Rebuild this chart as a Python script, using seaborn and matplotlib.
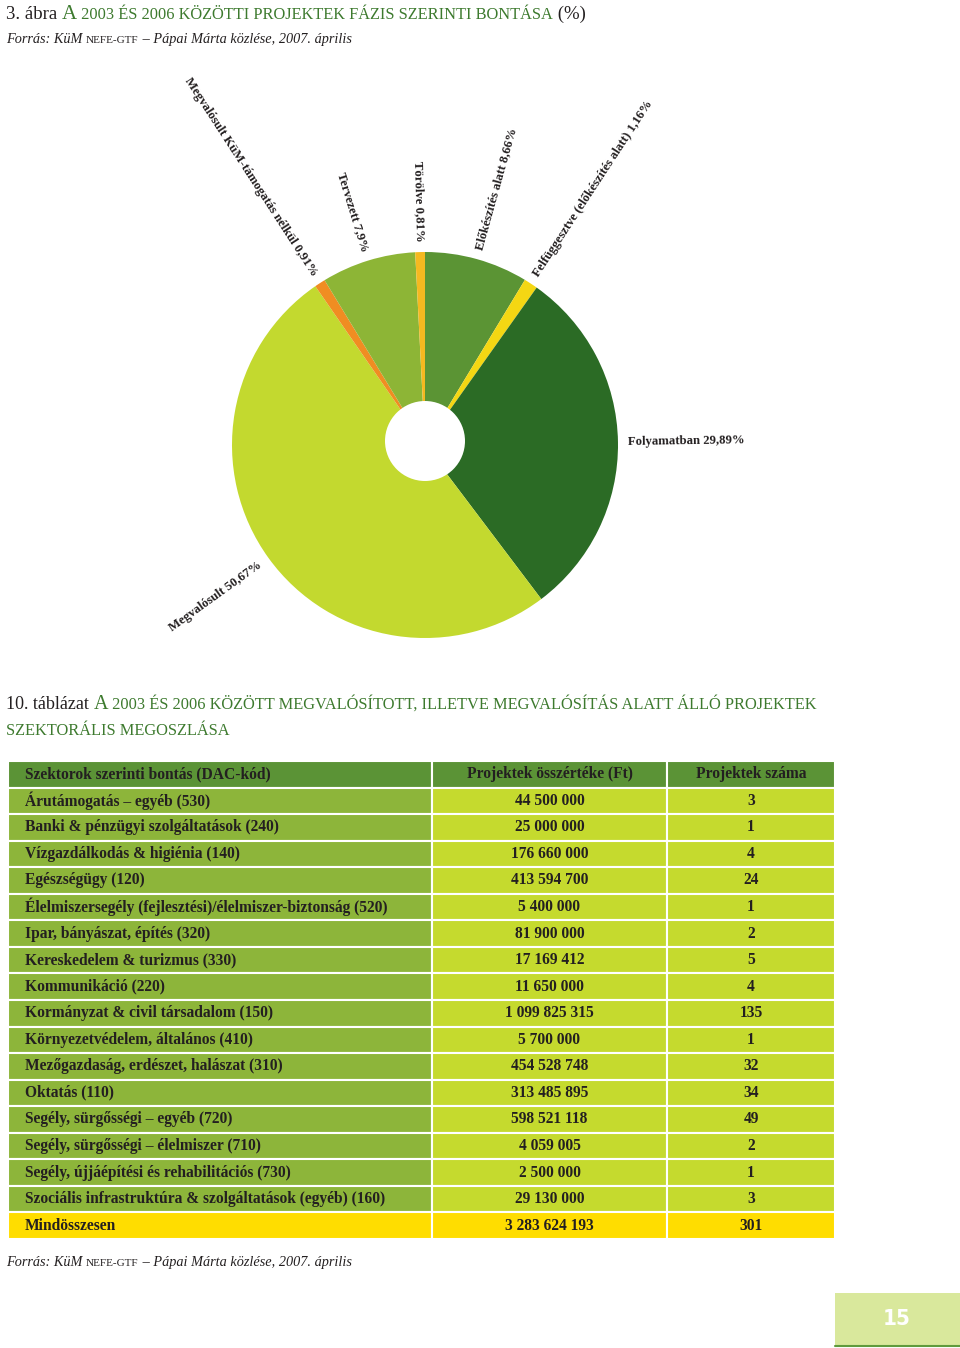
import matplotlib
matplotlib.use("Agg")
import matplotlib.pyplot as plt
import seaborn as sns
import numpy as np
from matplotlib.patches import Rectangle, Circle

sns.set_theme(style="white")
plt.rcParams['font.family'] = ['Liberation Serif', 'DejaVu Serif']

W, H = 960, 1348

# ---------------- data ----------------
phase_labels = ["Előkészítés alatt", "Felfüggesztve (előkészítés alatt)", "Folyamatban",
                "Megvalósult", "Megvalósult KüM-támogatás nélkül", "Tervezett", "Törölve"]
phase_values = [8.66, 1.16, 29.89, 50.67, 0.91, 7.9, 0.81]
phase_colors = ["#5b9434", "#f4d713", "#2b6b25", "#c3d92f", "#f08d22", "#8db536", "#f5b920"]

sectors = [
    "Árutámogatás – egyéb (530)",
    "Banki & pénzügyi szolgáltatások (240)",
    "Vízgazdálkodás & higiénia (140)",
    "Egészségügy (120)",
    "Élelmiszersegély (fejlesztési)/élelmiszer-biztonság (520)",
    "Ipar, bányászat, építés (320)",
    "Kereskedelem & turizmus (330)",
    "Kommunikáció (220)",
    "Kormányzat & civil társadalom (150)",
    "Környezetvédelem, általános (410)",
    "Mezőgazdaság, erdészet, halászat (310)",
    "Oktatás (110)",
    "Segély, sürgősségi – egyéb (720)",
    "Segély, sürgősségi – élelmiszer (710)",
    "Segély, újjáépítési és rehabilitációs (730)",
    "Szociális infrastruktúra & szolgáltatások (egyéb) (160)",
]
values_ft = [44500000, 25000000, 176660000, 413594700, 5400000, 81900000, 17169412,
             11650000, 1099825315, 5700000, 454528748, 313485895, 598521118, 4059005,
             2500000, 29130000]
counts = [3, 1, 4, 24, 1, 2, 5, 4, 135, 1, 32, 34, 49, 2, 1, 3]
header = ["Szektorok szerinti bontás (DAC-kód)", "Projektek összértéke (Ft)", "Projektek száma"]
total_label = "Mindösszesen"

GREEN = "#3d7a2e"
TXT = "#231f20"

fig = plt.figure(figsize=(W / 100, H / 100), dpi=100)
fig.patch.set_facecolor("white")

# full-page axes in pixel coordinates (for table & decorations)
axt = fig.add_axes([0, 0, 1, 1])
axt.set_xlim(0, W)
axt.set_ylim(H, 0)
axt.axis("off")

# ---------------- pie ----------------
cx, cy, R = 425, 445, 193
half = 260
axp = fig.add_axes([(cx - half) / W, 1 - (cy + half) / H, 2 * half / W, 2 * half / H])
wedges, _ = axp.pie(phase_values, colors=phase_colors, startangle=90, counterclock=False,
                    radius=R, center=(0, 0), wedgeprops=dict(linewidth=0))
axp.set_xlim(-half, half)
axp.set_ylim(-half, half)
axp.set_aspect("equal")
axp.axis("off")
axp.add_patch(Circle((0, 4), 40, facecolor="white", edgecolor="none", zorder=5))

def fmt_pct(v):
    return f"{v:g}".replace(".", ",") + "%"

r_lab = 203
for w, lab, v in zip(wedges, phase_labels, phase_values):
    mid = 0.5 * (w.theta1 + w.theta2)
    a = np.deg2rad(mid)
    x, y = r_lab * np.cos(a), r_lab * np.sin(a)
    if np.cos(a) >= -1e-9:
        rot, ha = mid, "left"
    else:
        rot, ha = mid - 180, "right"
    axp.text(x, y, f"{lab} {fmt_pct(v)}", rotation=rot, rotation_mode="anchor",
             ha=ha, va="center", fontsize=9.2, fontweight="bold", color=TXT)

# ---------------- text runs helper ----------------
renderer = fig.canvas.get_renderer()

def text_run(x, y, parts):
    for txt, kw in parts:
        t = fig.text(x / W, 1 - y / H, txt, ha="left", va="baseline", **kw)
        bb = t.get_window_extent(renderer=renderer)
        x = bb.x1
    return x

def smallcaps(s, big, small, **kw):
    parts = []
    cur, cur_big = "", None
    for ch in s:
        isbig = ch.isupper()
        if cur_big is None or isbig == cur_big:
            cur += ch.upper()
            cur_big = isbig
        else:
            parts.append((cur, dict(fontsize=big if cur_big else small, **kw)))
            cur, cur_big = ch.upper(), isbig
    if cur:
        parts.append((cur, dict(fontsize=big if cur_big else small, **kw)))
    return parts

# title
x = text_run(6, 19, [("3. ábra ", dict(fontsize=13.5, color=TXT))])
x = text_run(x, 19, smallcaps("A 2003 és 2006 közötti projektek fázis szerinti bontása", 15, 11.8, color=GREEN))
text_run(x, 19, [(" (%)", dict(fontsize=13.5, color=TXT))])

def source_line(y):
    x = text_run(6, y, [("Forrás: KüM ", dict(fontsize=10.3, style="italic", color=TXT))])
    x = text_run(x, y, [("NEFE-GTF", dict(fontsize=8, color=TXT))])
    text_run(x, y, [(" – Pápai Márta közlése, 2007. április", dict(fontsize=10.3, style="italic", color=TXT))])

source_line(43)

# table title
x = text_run(6, 709, [("10. táblázat ", dict(fontsize=13, color=TXT))])
text_run(x, 709, smallcaps("A 2003 és 2006 között megvalósított, illetve megvalósítás alatt álló projektek",
                           14.5, 11.8, color=GREEN))
text_run(6, 735, smallcaps("szektorális megoszlása", 14.5, 11.8, color=GREEN))

# ---------------- table ----------------
col_x = [8, 432, 667]
col_w = [424, 235, 168]
top, pitch = 761, 26.55
n_rows = len(sectors) + 2

col1 = [header[0]] + sectors + [total_label]
col2 = [header[1]] + [f"{v:,}".replace(",", " ") for v in values_ft] + \
       [f"{sum(values_ft):,}".replace(",", " ")]
col3 = [header[2]] + [str(c) for c in counts] + [str(sum(counts))]

FS = 11.2
for i in range(n_rows):
    yc = top + (i + 0.5) * pitch
    if i == 0:
        colors = ["#5b9336"] * 3
    elif i == n_rows - 1:
        colors = ["#ffdd00"] * 3
    else:
        colors = ["#8db53a", "#c5da2e", "#c5da2e"]
    axt.barh([yc] * 3, col_w, left=col_x, height=pitch, color=colors,
             edgecolor="white", linewidth=1.5)
    axt.text(25, yc, col1[i], ha="left", va="center", fontsize=FS, fontweight="bold", color=TXT)
    axt.text(col_x[1] + col_w[1] / 2, yc, col2[i], ha="center", va="center", fontsize=FS,
             fontweight="bold", color=TXT)
    axt.text(col_x[2] + col_w[2] / 2, yc, col3[i], ha="center", va="center", fontsize=FS,
             fontweight="bold", color=TXT)

source_line(1266)

# page number box
axt.add_patch(Rectangle((835, 1293), 125, 52, facecolor="#d9e89c", edgecolor="none"))
axt.plot([835, 960], [1346, 1346], color="#5f9a3c", lw=1.5)
axt.text(897, 1319, "15", ha="center", va="center", fontsize=16, color="white",
         family="DejaVu Sans", fontstretch="condensed", fontweight="bold")

fig.savefig("out.png", dpi=100, facecolor="white")
